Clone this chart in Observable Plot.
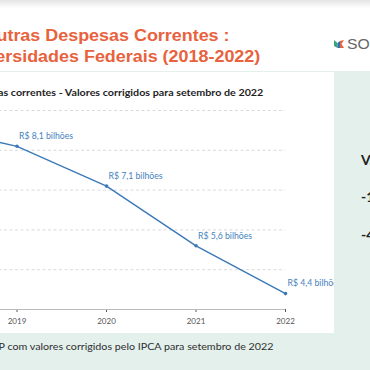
<!DOCTYPE html>
<html>
<head>
<meta charset="utf-8">
<script src="https://cdn.jsdelivr.net/npm/d3@7"></script>
<script src="https://cdn.jsdelivr.net/npm/@observablehq/plot@0.6"></script>
<style>
  html, body { margin: 0; padding: 0; }
  body { width: 370px; height: 370px; overflow: hidden; position: relative; background: #fff; font-family: Lato, "Open Sans", sans-serif; }
  .abs { position: absolute; white-space: nowrap; }
  #shade { left: 0; top: 0; width: 370px; height: 8px; background: linear-gradient(#e4e4e4, #ffffff); }
  .title { font-family: "Liberation Sans", Arial, sans-serif; font-weight: bold; font-size: 16px; line-height: 20px; color: #e8623d; transform: scaleX(1.12); transform-origin: right center; }
  #mint { left: 0; top: 71px; width: 370px; height: 299px; background: #e3f0ec; }
  #panel { left: -20px; top: 72px; width: 354px; height: 261px; background: #fff; overflow: hidden; }
  #subtitle { right: 71px; top: 15px; font-weight: bold; font-size: 9.5px; line-height: 12px; color: #1e1e1e; transform: scaleX(1.13); transform-origin: right center; }
  #chart { left: -90px; top: 28px; }
  #caption { right: 97px; top: 339px; font-size: 10px; line-height: 14px; color: #2e2e2e; transform: scaleX(1.07); transform-origin: right center; }
  .side { left: 361px; font-weight: bold; font-size: 14px; line-height: 18px; color: #222; }
  #brand { left: 347px; top: 35px; font-family: "Liberation Sans", Arial, sans-serif; font-size: 14px; line-height: 18px; color: #666; transform: scaleX(1.12); transform-origin: left center; }
</style>
</head>
<body>
<div id="shade" class="abs"></div>
<div class="abs title" style="right:140px; top:26px;">Outras Despesas Correntes :</div>
<div class="abs title" style="right:110px; top:47px;">Universidades Federais (2018-2022)</div>
<svg class="abs" style="left:334px; top:40px;" width="10" height="8" viewBox="0 0 10 8">
  <path d="M0,0 L3.5,3 L3.5,8 L0,6 Z" fill="#3aa776"/>
  <path d="M3.5,3 L6,1 L6,8 L3.5,8 Z" fill="#2f6fb5"/>
  <path d="M6,1 L10,0 L7.5,4 L10,8 L6,8 Z" fill="#e8623d"/>
</svg>
<div id="brand" class="abs">SOU CIÊNCIA</div>
<div id="mint" class="abs"></div>
<div id="panel" class="abs">
  <div id="subtitle" class="abs">Outras despesas correntes - Valores corrigidos para setembro de 2022</div>
  <div id="chart" class="abs"></div>
</div>
<div class="abs side" style="top:151px;">Variação</div>
<div class="abs side" style="top:188px;">-12,7%</div>
<div class="abs side" style="top:226px;">-48,8%</div>
<div id="caption" class="abs">Fonte: SIOP com valores corrigidos pelo IPCA para setembro de 2022</div>
<script>
const years = [2018, 2019, 2020, 2021, 2022];
const values = [8.6, 8.1, 7.1, 5.6, 4.4];
const labels = ["R$ 8,6 bilhões", "R$ 8,1 bilhões", "R$ 7,1 bilhões", "R$ 5,6 bilhões", "R$ 4,4 bilhões"];
const gridValues = [5, 6, 7, 8, 9];
const baseValue = 4;

const data = years.map((y, i) => ({year: y, value: values[i], label: labels[i]}));
const blue = "#3b79b7";

const plot = Plot.plot({
  width: 400,
  height: 230,
  marginLeft: 37,
  marginRight: 5,
  marginTop: 10,
  marginBottom: 21,
  style: {fontFamily: "Lato, 'Open Sans', sans-serif", fontSize: "8px", color: "#555", background: "transparent", overflow: "visible"},
  x: {type: "linear", domain: [2018, 2022], ticks: years, tickFormat: d => String(d), tickSize: 3, label: null},
  y: {domain: [4, 9], axis: null},
  marks: [
    Plot.ruleY(gridValues, {stroke: "#d2d2d2", strokeDasharray: "3,2.5", strokeWidth: 0.8}),
    Plot.ruleY([baseValue], {stroke: "#bcbcbc", strokeWidth: 1}),
    Plot.line(data, {x: "year", y: "value", stroke: blue, strokeWidth: 1.4}),
    Plot.dot(data, {x: "year", y: "value", fill: blue, r: 1.8}),
    Plot.text(data, {x: "year", y: "value", text: "label", textAnchor: "start", dx: 2, dy: -10, fill: "#4683be", fontSize: 8.7})
  ]
});
document.getElementById("chart").appendChild(plot);
</script>
</body>
</html>
